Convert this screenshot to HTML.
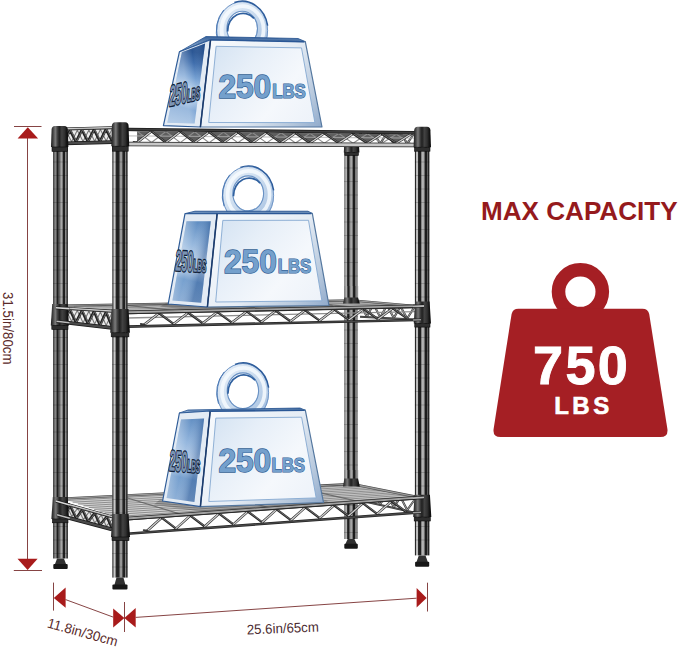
<!DOCTYPE html>
<html><head><meta charset="utf-8"><title>Shelf capacity</title>
<style>
html,body{margin:0;padding:0;background:#fff;}
body{width:679px;height:647px;overflow:hidden;font-family:"Liberation Sans",sans-serif;}
svg{display:block;}
</style></head><body>
<svg width="679" height="647" viewBox="0 0 679 647">

<defs>
  <linearGradient id="poleFL" x1="0" x2="1" y1="0" y2="0">
    <stop offset="0" stop-color="#666"/>
    <stop offset="0.05" stop-color="#2a2a2a"/>
    <stop offset="0.12" stop-color="#e2e2e2"/>
    <stop offset="0.2" stop-color="#9a9a9a"/>
    <stop offset="0.28" stop-color="#222"/>
    <stop offset="0.4" stop-color="#1e1e1e"/>
    <stop offset="0.48" stop-color="#5e5e5e"/>
    <stop offset="0.57" stop-color="#b8b8b8"/>
    <stop offset="0.66" stop-color="#555"/>
    <stop offset="0.74" stop-color="#1c1c1c"/>
    <stop offset="0.81" stop-color="#202020"/>
    <stop offset="0.87" stop-color="#9c9c9c"/>
    <stop offset="0.93" stop-color="#2a2a2a"/>
    <stop offset="1" stop-color="#444"/>
  </linearGradient>
  <linearGradient id="poleLB" x1="0" x2="1" y1="0" y2="0">
    <stop offset="0" stop-color="#333"/>
    <stop offset="0.06" stop-color="#444"/>
    <stop offset="0.12" stop-color="#8a8a8a"/>
    <stop offset="0.21" stop-color="#808080"/>
    <stop offset="0.26" stop-color="#202020"/>
    <stop offset="0.33" stop-color="#1e1e1e"/>
    <stop offset="0.38" stop-color="#5a5a5a"/>
    <stop offset="0.47" stop-color="#666"/>
    <stop offset="0.53" stop-color="#acacac"/>
    <stop offset="0.62" stop-color="#a0a0a0"/>
    <stop offset="0.67" stop-color="#222"/>
    <stop offset="0.78" stop-color="#1e1e1e"/>
    <stop offset="0.83" stop-color="#8a8a8a"/>
    <stop offset="0.89" stop-color="#808080"/>
    <stop offset="0.93" stop-color="#262626"/>
    <stop offset="1" stop-color="#2a2a2a"/>
  </linearGradient>
  <linearGradient id="poleBR" x1="0" x2="1" y1="0" y2="0">
    <stop offset="0" stop-color="#808080"/>
    <stop offset="0.08" stop-color="#909090"/>
    <stop offset="0.14" stop-color="#b8b8b8"/>
    <stop offset="0.21" stop-color="#a8a8a8"/>
    <stop offset="0.25" stop-color="#222"/>
    <stop offset="0.36" stop-color="#1e1e1e"/>
    <stop offset="0.4" stop-color="#7a7a7a"/>
    <stop offset="0.5" stop-color="#aaa"/>
    <stop offset="0.58" stop-color="#a0a0a0"/>
    <stop offset="0.63" stop-color="#444"/>
    <stop offset="0.67" stop-color="#1c1c1c"/>
    <stop offset="0.78" stop-color="#1c1c1c"/>
    <stop offset="0.82" stop-color="#7a7a7a"/>
    <stop offset="0.93" stop-color="#8a8a8a"/>
    <stop offset="1" stop-color="#aaa"/>
  </linearGradient>
  <linearGradient id="poleFR" x1="0" x2="1" y1="0" y2="0">
    <stop offset="0" stop-color="#2a2a2a"/>
    <stop offset="0.05" stop-color="#2a2a2a"/>
    <stop offset="0.09" stop-color="#b8b8b8"/>
    <stop offset="0.21" stop-color="#c2c2c2"/>
    <stop offset="0.25" stop-color="#222"/>
    <stop offset="0.39" stop-color="#1e1e1e"/>
    <stop offset="0.44" stop-color="#7a7a7a"/>
    <stop offset="0.52" stop-color="#b4b4b4"/>
    <stop offset="0.63" stop-color="#a8a8a8"/>
    <stop offset="0.68" stop-color="#4a4a4a"/>
    <stop offset="0.71" stop-color="#1c1c1c"/>
    <stop offset="0.81" stop-color="#1c1c1c"/>
    <stop offset="0.85" stop-color="#5e5e5e"/>
    <stop offset="0.9" stop-color="#5e5e5e"/>
    <stop offset="0.94" stop-color="#222"/>
    <stop offset="1" stop-color="#222"/>
  </linearGradient>
  <linearGradient id="sleeve" x1="0" x2="1" y1="0" y2="0">
    <stop offset="0" stop-color="#1e1e1e"/>
    <stop offset="0.12" stop-color="#444"/>
    <stop offset="0.25" stop-color="#7a7a7a"/>
    <stop offset="0.38" stop-color="#3e3e3e"/>
    <stop offset="0.48" stop-color="#202020"/>
    <stop offset="0.62" stop-color="#424242"/>
    <stop offset="0.78" stop-color="#303030"/>
    <stop offset="0.90" stop-color="#141414"/>
    <stop offset="1" stop-color="#0c0c0c"/>
  </linearGradient>
  <linearGradient id="wfront" x1="0" x2="1" y1="0" y2="1">
    <stop offset="0" stop-color="#dbe8f5"/>
    <stop offset="0.5" stop-color="#e6eff9"/>
    <stop offset="1" stop-color="#cfe0f1"/>
  </linearGradient>
  <linearGradient id="wbevel" x1="0" x2="1" y1="0" y2="1">
    <stop offset="0" stop-color="#f4f8fc"/>
    <stop offset="0.35" stop-color="#c9d9ea"/>
    <stop offset="0.7" stop-color="#9fb9d6"/>
    <stop offset="1" stop-color="#5f86b5"/>
  </linearGradient>
  <linearGradient id="wside" x1="0" x2="1" y1="0" y2="1">
    <stop offset="0" stop-color="#5d8ac0"/>
    <stop offset="0.30" stop-color="#8db1da"/>
    <stop offset="0.55" stop-color="#b4cde8"/>
    <stop offset="0.80" stop-color="#7ea6d3"/>
    <stop offset="1" stop-color="#4f7cb3"/>
  </linearGradient>
  <linearGradient id="wtop" x1="0" x2="0" y1="0" y2="1">
    <stop offset="0" stop-color="#38629a"/>
    <stop offset="1" stop-color="#aac4e2"/>
  </linearGradient>
  <linearGradient id="ring" x1="0" x2="1" y1="0" y2="1">
    <stop offset="0" stop-color="#eef4fb"/>
    <stop offset="0.4" stop-color="#cfdff0"/>
    <stop offset="0.75" stop-color="#b4cbe6"/>
    <stop offset="1" stop-color="#8fb0d8"/>
  </linearGradient>
</defs>

<rect width="679" height="647" fill="#fff"/>
<rect x="344.1" y="146.0" width="13.9" height="393.0" fill="url(#poleBR)"/>
<line x1="344.1" y1="168.0" x2="358.0" y2="168.0" stroke="#0d0d0d" stroke-width="0.5" opacity="0.38"/>
<line x1="344.1" y1="181.5" x2="358.0" y2="181.5" stroke="#0d0d0d" stroke-width="0.5" opacity="0.38"/>
<line x1="344.1" y1="195.0" x2="358.0" y2="195.0" stroke="#0d0d0d" stroke-width="0.5" opacity="0.38"/>
<line x1="344.1" y1="208.5" x2="358.0" y2="208.5" stroke="#0d0d0d" stroke-width="0.5" opacity="0.38"/>
<line x1="344.1" y1="222.0" x2="358.0" y2="222.0" stroke="#0d0d0d" stroke-width="0.5" opacity="0.38"/>
<line x1="344.1" y1="235.5" x2="358.0" y2="235.5" stroke="#0d0d0d" stroke-width="0.5" opacity="0.38"/>
<line x1="344.1" y1="249.0" x2="358.0" y2="249.0" stroke="#0d0d0d" stroke-width="0.5" opacity="0.38"/>
<line x1="344.1" y1="262.5" x2="358.0" y2="262.5" stroke="#0d0d0d" stroke-width="0.5" opacity="0.38"/>
<line x1="344.1" y1="276.0" x2="358.0" y2="276.0" stroke="#0d0d0d" stroke-width="0.5" opacity="0.38"/>
<line x1="344.1" y1="289.5" x2="358.0" y2="289.5" stroke="#0d0d0d" stroke-width="0.5" opacity="0.38"/>
<line x1="344.1" y1="303.0" x2="358.0" y2="303.0" stroke="#0d0d0d" stroke-width="0.5" opacity="0.38"/>
<line x1="344.1" y1="316.5" x2="358.0" y2="316.5" stroke="#0d0d0d" stroke-width="0.5" opacity="0.38"/>
<line x1="344.1" y1="330.0" x2="358.0" y2="330.0" stroke="#0d0d0d" stroke-width="0.5" opacity="0.38"/>
<line x1="344.1" y1="343.5" x2="358.0" y2="343.5" stroke="#0d0d0d" stroke-width="0.5" opacity="0.38"/>
<line x1="344.1" y1="357.0" x2="358.0" y2="357.0" stroke="#0d0d0d" stroke-width="0.5" opacity="0.38"/>
<line x1="344.1" y1="370.5" x2="358.0" y2="370.5" stroke="#0d0d0d" stroke-width="0.5" opacity="0.38"/>
<line x1="344.1" y1="384.0" x2="358.0" y2="384.0" stroke="#0d0d0d" stroke-width="0.5" opacity="0.38"/>
<line x1="344.1" y1="397.5" x2="358.0" y2="397.5" stroke="#0d0d0d" stroke-width="0.5" opacity="0.38"/>
<line x1="344.1" y1="411.0" x2="358.0" y2="411.0" stroke="#0d0d0d" stroke-width="0.5" opacity="0.38"/>
<line x1="344.1" y1="424.5" x2="358.0" y2="424.5" stroke="#0d0d0d" stroke-width="0.5" opacity="0.38"/>
<line x1="344.1" y1="438.0" x2="358.0" y2="438.0" stroke="#0d0d0d" stroke-width="0.5" opacity="0.38"/>
<line x1="344.1" y1="451.5" x2="358.0" y2="451.5" stroke="#0d0d0d" stroke-width="0.5" opacity="0.38"/>
<line x1="344.1" y1="465.0" x2="358.0" y2="465.0" stroke="#0d0d0d" stroke-width="0.5" opacity="0.38"/>
<line x1="344.1" y1="478.5" x2="358.0" y2="478.5" stroke="#0d0d0d" stroke-width="0.5" opacity="0.38"/>
<line x1="344.1" y1="492.0" x2="358.0" y2="492.0" stroke="#0d0d0d" stroke-width="0.5" opacity="0.38"/>
<line x1="344.1" y1="505.5" x2="358.0" y2="505.5" stroke="#0d0d0d" stroke-width="0.5" opacity="0.38"/>
<line x1="344.1" y1="519.0" x2="358.0" y2="519.0" stroke="#0d0d0d" stroke-width="0.5" opacity="0.38"/>
<line x1="344.1" y1="532.5" x2="358.0" y2="532.5" stroke="#0d0d0d" stroke-width="0.5" opacity="0.38"/>
<path d="M347.7 539.0 L354.4 539.0 L356.7 544.1 L345.4 544.1 Z" fill="#303030"/>
<rect x="344.3" y="543.8" width="13.5" height="5.0" rx="1" fill="#171717"/>
<path d="M344.2 146.0 L359.0 146.0 L359.4 152.5 L343.8 152.5 Z" fill="url(#sleeve)"/>
<rect x="344.8" y="152.5" width="13.6" height="3.0" fill="#2e2e2e" stroke="#0a0a0a" stroke-width="0.6"/>
<polyline points="360.0,132.6 366.8,143.6 373.5,132.8 380.2,143.6 387.0,133.1 393.8,143.6 400.5,133.3 407.2,143.6 414.0,133.6" fill="none" stroke="#3c3c3c" stroke-width="2.1" stroke-linejoin="round"/>
<polyline points="360.0,132.6 366.8,143.6 373.5,132.8 380.2,143.6 387.0,133.1 393.8,143.6 400.5,133.3 407.2,143.6 414.0,133.6" fill="none" stroke="#9c9c9c" stroke-width="0.9" stroke-linejoin="round"/>
<polyline points="360.0,303.0 366.8,316.8 373.5,304.1 380.2,317.4 387.0,305.3 393.8,317.9 400.5,306.5 407.2,318.5 414.0,307.6" fill="none" stroke="#3c3c3c" stroke-width="2.1" stroke-linejoin="round"/>
<polyline points="360.0,303.0 366.8,316.8 373.5,304.1 380.2,317.4 387.0,305.3 393.8,317.9 400.5,306.5 407.2,318.5 414.0,307.6" fill="none" stroke="#a8a8a8" stroke-width="0.9" stroke-linejoin="round"/>
<polyline points="360.0,487.0 366.8,501.4 373.5,490.4 380.2,504.3 387.0,493.8 393.8,507.2 400.5,497.1 407.2,510.1 414.0,500.5" fill="none" stroke="#3c3c3c" stroke-width="2.1" stroke-linejoin="round"/>
<polyline points="360.0,487.0 366.8,501.4 373.5,490.4 380.2,504.3 387.0,493.8 393.8,507.2 400.5,497.1 407.2,510.1 414.0,500.5" fill="none" stroke="#a8a8a8" stroke-width="0.9" stroke-linejoin="round"/>
<line x1="360.0" y1="316.8" x2="414.0" y2="319.4" stroke="#333" stroke-width="2.0"/>
<line x1="360.0" y1="316.8" x2="414.0" y2="319.4" stroke="#7a7a7a" stroke-width="0.5"/>
<line x1="360.0" y1="500.6" x2="414.0" y2="512.4" stroke="#333" stroke-width="2.0"/>
<line x1="360.0" y1="500.6" x2="414.0" y2="512.4" stroke="#7a7a7a" stroke-width="0.5"/>
<polygon points="62.0,305.6 121.0,312.4 420.0,306.4 352.0,300.4" fill="#d2d2d2"/>
<line x1="73.8" y1="307.0" x2="365.6" y2="301.6" stroke="#7c7c7c" stroke-width="0.8"/>
<line x1="85.6" y1="308.3" x2="379.2" y2="302.8" stroke="#7c7c7c" stroke-width="0.8"/>
<line x1="97.4" y1="309.7" x2="392.8" y2="304.0" stroke="#7c7c7c" stroke-width="0.8"/>
<line x1="109.2" y1="311.0" x2="406.4" y2="305.2" stroke="#7c7c7c" stroke-width="0.8"/>
<line x1="120.0" y1="304.6" x2="180.8" y2="311.2" stroke="#5c5c5c" stroke-width="1.2" opacity="0.8"/>
<line x1="207.0" y1="303.0" x2="270.5" y2="309.4" stroke="#5c5c5c" stroke-width="1.2" opacity="0.8"/>
<line x1="294.0" y1="301.4" x2="360.2" y2="307.6" stroke="#5c5c5c" stroke-width="1.2" opacity="0.8"/>
<polygon points="62.0,498.6 121.0,518.4 420.0,497.6 352.0,484.0" fill="#d2d2d2"/>
<line x1="67.4" y1="500.4" x2="358.2" y2="485.2" stroke="#7c7c7c" stroke-width="0.8"/>
<line x1="72.7" y1="502.2" x2="364.4" y2="486.5" stroke="#7c7c7c" stroke-width="0.8"/>
<line x1="78.1" y1="504.0" x2="370.5" y2="487.7" stroke="#7c7c7c" stroke-width="0.8"/>
<line x1="83.5" y1="505.8" x2="376.7" y2="488.9" stroke="#7c7c7c" stroke-width="0.8"/>
<line x1="88.8" y1="507.6" x2="382.9" y2="490.2" stroke="#7c7c7c" stroke-width="0.8"/>
<line x1="94.2" y1="509.4" x2="389.1" y2="491.4" stroke="#7c7c7c" stroke-width="0.8"/>
<line x1="99.5" y1="511.2" x2="395.3" y2="492.7" stroke="#7c7c7c" stroke-width="0.8"/>
<line x1="104.9" y1="513.0" x2="401.5" y2="493.9" stroke="#7c7c7c" stroke-width="0.8"/>
<line x1="110.3" y1="514.8" x2="407.6" y2="495.1" stroke="#7c7c7c" stroke-width="0.8"/>
<line x1="115.6" y1="516.6" x2="413.8" y2="496.4" stroke="#7c7c7c" stroke-width="0.8"/>
<line x1="120.0" y1="495.7" x2="180.8" y2="514.2" stroke="#5c5c5c" stroke-width="1.2" opacity="0.8"/>
<line x1="207.0" y1="491.3" x2="270.5" y2="508.0" stroke="#5c5c5c" stroke-width="1.2" opacity="0.8"/>
<line x1="294.0" y1="486.9" x2="360.2" y2="501.8" stroke="#5c5c5c" stroke-width="1.2" opacity="0.8"/>
<line x1="62.0" y1="305.6" x2="352.0" y2="300.4" stroke="#444" stroke-width="2.2" stroke-linecap="round"/>
<line x1="62.0" y1="305.6" x2="352.0" y2="300.4" stroke="#9a9a9a" stroke-width="1.0" stroke-linecap="round"/>
<line x1="352.0" y1="300.4" x2="420.0" y2="306.4" stroke="#444" stroke-width="2.4" stroke-linecap="round"/>
<line x1="352.0" y1="300.4" x2="420.0" y2="306.4" stroke="#9a9a9a" stroke-width="1.2" stroke-linecap="round"/>
<line x1="62.0" y1="498.6" x2="352.0" y2="484.0" stroke="#444" stroke-width="2.3" stroke-linecap="round"/>
<line x1="62.0" y1="498.6" x2="352.0" y2="484.0" stroke="#9a9a9a" stroke-width="1.1" stroke-linecap="round"/>
<line x1="352.0" y1="484.0" x2="420.0" y2="497.6" stroke="#444" stroke-width="2.5" stroke-linecap="round"/>
<line x1="352.0" y1="484.0" x2="420.0" y2="497.6" stroke="#9a9a9a" stroke-width="1.3" stroke-linecap="round"/>
<rect x="344.2" y="286" width="14" height="15.5" fill="url(#poleBR)"/>
<rect x="344.2" y="470" width="14" height="15" fill="url(#poleBR)"/>
<path d="M344.4 297.4 L358 297.4 L359.8 303.6 L343 303.6 Z" fill="url(#sleeve)"/>
<path d="M344.4 478.5 L358 478.5 L359.8 486.5 L343 486.5 Z" fill="url(#sleeve)"/>
<polygon points="166.0,303.2 332.0,304.6 336.0,309.6 200.0,311.4 160.0,306.5" fill="#3a3a3a" opacity="0.35"/>
<polygon points="160.0,499.5 326.0,500.5 334.0,505.5 202.0,512.0 154.0,504.5" fill="#3a3a3a" opacity="0.30"/>
<polygon points="56.0,129.3 112.0,127.8 112.0,142.2 56.0,143.6" fill="#ececec"/>
<polyline points="60.0,142.1 65.8,130.6 71.6,141.8 77.3,130.3 83.1,141.5 88.9,130.0 94.7,141.2 100.4,129.6 106.2,140.9 112.0,129.3" fill="none" stroke="#7a7a7a" stroke-width="1.1" stroke-linejoin="round"/>
<polyline points="58.0,130.5 64.0,142.2 70.0,130.2 76.0,141.9 82.0,129.8 88.0,141.6 94.0,129.5 100.0,141.3 106.0,129.2 112.0,141.0" fill="none" stroke="#222" stroke-width="2.7" stroke-linejoin="round"/>
<polyline points="58.6,130.3 64.6,142.0 70.6,130.0 76.6,141.7 82.6,129.6 88.6,141.4 94.6,129.3 100.6,141.1 106.6,129.0 112.6,140.8" fill="none" stroke="#9a9a9a" stroke-width="0.6" stroke-linejoin="round"/>
<line x1="56.0" y1="129.3" x2="112.0" y2="127.8" stroke="#1a1a1a" stroke-width="3.0"/>
<line x1="56.0" y1="129.3" x2="112.0" y2="127.8" stroke="#8a8a8a" stroke-width="1.5"/>
<line x1="56.0" y1="128.9" x2="112.0" y2="127.4" stroke="#f4f4f4" stroke-width="0.7"/>
<line x1="56.0" y1="143.6" x2="112.0" y2="142.2" stroke="#161616" stroke-width="3.8"/>
<line x1="56.0" y1="143.6" x2="112.0" y2="142.2" stroke="#4a4a4a" stroke-width="2.3"/>
<polygon points="127.0,131.0 137.1,131.1 137.1,142.4 151.5,131.3 165.9,142.5 180.3,131.6 194.7,142.6 209.1,132.0 223.5,142.7 237.9,132.3 252.3,142.8 266.7,132.6 281.1,142.9 295.5,133.0 309.9,143.0 324.3,133.3 338.7,143.1 353.1,133.7 367.5,143.2 381.9,134.0 396.3,143.3 410.7,134.3 410.7,134.3 415.0,134.4" fill="#5e5e5e"/>
<polyline points="137.1,131.1 151.5,142.5 165.9,131.5 180.3,142.6 194.7,131.8 209.1,142.7 223.5,132.1 237.9,142.8 252.3,132.5 266.7,142.9 281.1,132.8 295.5,143.0 309.9,133.2 324.3,143.1 338.7,133.5 353.1,143.2 367.5,133.8 381.9,143.3 396.3,134.2 410.7,143.4" fill="none" stroke="#8c8c8c" stroke-width="1.1" stroke-linejoin="round"/>
<line x1="127.0" y1="135.8" x2="415.0" y2="138.2" stroke="#b0b0b0" stroke-width="1.2" opacity="0.7"/>
<line x1="137.1" y1="142.4" x2="151.5" y2="131.3" stroke="#2a2a2a" stroke-width="2.5" stroke-linecap="round"/>
<line x1="137.1" y1="142.4" x2="151.5" y2="131.3" stroke="#cfcfcf" stroke-width="1.3" stroke-linecap="round"/>
<line x1="151.5" y1="131.3" x2="165.9" y2="142.5" stroke="#262626" stroke-width="2.3" stroke-linecap="round"/>
<line x1="151.5" y1="131.0" x2="165.9" y2="142.2" stroke="#8a8a8a" stroke-width="0.7" stroke-linecap="round"/>
<line x1="165.9" y1="142.5" x2="180.3" y2="131.6" stroke="#2a2a2a" stroke-width="2.5" stroke-linecap="round"/>
<line x1="165.9" y1="142.5" x2="180.3" y2="131.6" stroke="#cfcfcf" stroke-width="1.3" stroke-linecap="round"/>
<line x1="180.3" y1="131.6" x2="194.7" y2="142.6" stroke="#262626" stroke-width="2.3" stroke-linecap="round"/>
<line x1="180.3" y1="131.3" x2="194.7" y2="142.3" stroke="#8a8a8a" stroke-width="0.7" stroke-linecap="round"/>
<line x1="194.7" y1="142.6" x2="209.1" y2="132.0" stroke="#2a2a2a" stroke-width="2.5" stroke-linecap="round"/>
<line x1="194.7" y1="142.6" x2="209.1" y2="132.0" stroke="#cfcfcf" stroke-width="1.3" stroke-linecap="round"/>
<line x1="209.1" y1="132.0" x2="223.5" y2="142.7" stroke="#262626" stroke-width="2.3" stroke-linecap="round"/>
<line x1="209.1" y1="131.7" x2="223.5" y2="142.4" stroke="#8a8a8a" stroke-width="0.7" stroke-linecap="round"/>
<line x1="223.5" y1="142.7" x2="237.9" y2="132.3" stroke="#2a2a2a" stroke-width="2.5" stroke-linecap="round"/>
<line x1="223.5" y1="142.7" x2="237.9" y2="132.3" stroke="#cfcfcf" stroke-width="1.3" stroke-linecap="round"/>
<line x1="237.9" y1="132.3" x2="252.3" y2="142.8" stroke="#262626" stroke-width="2.3" stroke-linecap="round"/>
<line x1="237.9" y1="132.0" x2="252.3" y2="142.5" stroke="#8a8a8a" stroke-width="0.7" stroke-linecap="round"/>
<line x1="252.3" y1="142.8" x2="266.7" y2="132.6" stroke="#2a2a2a" stroke-width="2.5" stroke-linecap="round"/>
<line x1="252.3" y1="142.8" x2="266.7" y2="132.6" stroke="#cfcfcf" stroke-width="1.3" stroke-linecap="round"/>
<line x1="266.7" y1="132.6" x2="281.1" y2="142.9" stroke="#262626" stroke-width="2.3" stroke-linecap="round"/>
<line x1="266.7" y1="132.3" x2="281.1" y2="142.6" stroke="#8a8a8a" stroke-width="0.7" stroke-linecap="round"/>
<line x1="281.1" y1="142.9" x2="295.5" y2="133.0" stroke="#2a2a2a" stroke-width="2.5" stroke-linecap="round"/>
<line x1="281.1" y1="142.9" x2="295.5" y2="133.0" stroke="#cfcfcf" stroke-width="1.3" stroke-linecap="round"/>
<line x1="295.5" y1="133.0" x2="309.9" y2="143.0" stroke="#262626" stroke-width="2.3" stroke-linecap="round"/>
<line x1="295.5" y1="132.7" x2="309.9" y2="142.7" stroke="#8a8a8a" stroke-width="0.7" stroke-linecap="round"/>
<line x1="309.9" y1="143.0" x2="324.3" y2="133.3" stroke="#2a2a2a" stroke-width="2.5" stroke-linecap="round"/>
<line x1="309.9" y1="143.0" x2="324.3" y2="133.3" stroke="#cfcfcf" stroke-width="1.3" stroke-linecap="round"/>
<line x1="324.3" y1="133.3" x2="338.7" y2="143.1" stroke="#262626" stroke-width="2.3" stroke-linecap="round"/>
<line x1="324.3" y1="133.0" x2="338.7" y2="142.8" stroke="#8a8a8a" stroke-width="0.7" stroke-linecap="round"/>
<line x1="338.7" y1="143.1" x2="353.1" y2="133.7" stroke="#2a2a2a" stroke-width="2.5" stroke-linecap="round"/>
<line x1="338.7" y1="143.1" x2="353.1" y2="133.7" stroke="#cfcfcf" stroke-width="1.3" stroke-linecap="round"/>
<line x1="353.1" y1="133.7" x2="367.5" y2="143.2" stroke="#262626" stroke-width="2.3" stroke-linecap="round"/>
<line x1="353.1" y1="133.4" x2="367.5" y2="142.9" stroke="#8a8a8a" stroke-width="0.7" stroke-linecap="round"/>
<line x1="367.5" y1="143.2" x2="381.9" y2="134.0" stroke="#2a2a2a" stroke-width="2.5" stroke-linecap="round"/>
<line x1="367.5" y1="143.2" x2="381.9" y2="134.0" stroke="#cfcfcf" stroke-width="1.3" stroke-linecap="round"/>
<line x1="381.9" y1="134.0" x2="396.3" y2="143.3" stroke="#262626" stroke-width="2.3" stroke-linecap="round"/>
<line x1="381.9" y1="133.7" x2="396.3" y2="143.0" stroke="#8a8a8a" stroke-width="0.7" stroke-linecap="round"/>
<line x1="396.3" y1="143.3" x2="410.7" y2="134.3" stroke="#2a2a2a" stroke-width="2.5" stroke-linecap="round"/>
<line x1="396.3" y1="143.3" x2="410.7" y2="134.3" stroke="#cfcfcf" stroke-width="1.3" stroke-linecap="round"/>
<line x1="133.6" y1="141.8" x2="137.1" y2="142.4" stroke="#3a3a3a" stroke-width="1.8" stroke-linecap="round"/>
<line x1="127.0" y1="129.4" x2="415.0" y2="132.8" stroke="#1a1a1a" stroke-width="3.4"/>
<line x1="127.0" y1="129.4" x2="415.0" y2="132.8" stroke="#3d3d3d" stroke-width="1.9"/>
<line x1="127.0" y1="144.0" x2="415.0" y2="145.0" stroke="#1e1e1e" stroke-width="4.4"/>
<line x1="127.0" y1="144.0" x2="415.0" y2="145.0" stroke="#c8c8c8" stroke-width="2.9"/>
<polygon points="56.0,307.8 112.0,311.3 112.0,327.8 56.0,321.3" fill="#ececec"/>
<polyline points="60.0,319.8 65.8,309.7 71.6,321.2 77.3,310.5 83.1,322.7 88.9,311.2 94.7,324.1 100.4,312.0 106.2,325.6 112.0,312.8" fill="none" stroke="#7a7a7a" stroke-width="1.1" stroke-linejoin="round"/>
<polyline points="58.0,309.0 64.0,320.8 70.0,309.8 76.0,322.3 82.0,310.6 88.0,323.7 94.0,311.3 100.0,325.2 106.0,312.1 112.0,326.6" fill="none" stroke="#222" stroke-width="2.7" stroke-linejoin="round"/>
<polyline points="58.6,308.8 64.6,320.6 70.6,309.6 76.6,322.1 82.6,310.4 88.6,323.5 94.6,311.1 100.6,325.0 106.6,311.9 112.6,326.4" fill="none" stroke="#9a9a9a" stroke-width="0.6" stroke-linejoin="round"/>
<line x1="56.0" y1="307.8" x2="112.0" y2="311.3" stroke="#1a1a1a" stroke-width="3.0"/>
<line x1="56.0" y1="307.8" x2="112.0" y2="311.3" stroke="#8a8a8a" stroke-width="1.5"/>
<line x1="56.0" y1="307.4" x2="112.0" y2="310.9" stroke="#f4f4f4" stroke-width="0.7"/>
<line x1="56.0" y1="321.3" x2="112.0" y2="327.8" stroke="#161616" stroke-width="3.8"/>
<line x1="56.0" y1="321.3" x2="112.0" y2="327.8" stroke="#4a4a4a" stroke-width="2.3"/>
<line x1="127.0" y1="318.0" x2="416.0" y2="311.6" stroke="#8e8e8e" stroke-width="1.3"/>
<line x1="144.3" y1="324.6" x2="159.0" y2="313.3" stroke="#2a2a2a" stroke-width="2.5" stroke-linecap="round"/>
<line x1="144.3" y1="324.6" x2="159.0" y2="313.3" stroke="#cfcfcf" stroke-width="1.3" stroke-linecap="round"/>
<line x1="159.0" y1="313.3" x2="173.6" y2="323.9" stroke="#262626" stroke-width="2.3" stroke-linecap="round"/>
<line x1="159.0" y1="313.0" x2="173.6" y2="323.6" stroke="#8a8a8a" stroke-width="0.7" stroke-linecap="round"/>
<line x1="173.6" y1="323.9" x2="188.2" y2="312.7" stroke="#2a2a2a" stroke-width="2.5" stroke-linecap="round"/>
<line x1="173.6" y1="323.9" x2="188.2" y2="312.7" stroke="#cfcfcf" stroke-width="1.3" stroke-linecap="round"/>
<line x1="188.2" y1="312.7" x2="202.8" y2="323.3" stroke="#262626" stroke-width="2.3" stroke-linecap="round"/>
<line x1="188.2" y1="312.4" x2="202.8" y2="323.0" stroke="#8a8a8a" stroke-width="0.7" stroke-linecap="round"/>
<line x1="202.8" y1="323.3" x2="217.4" y2="312.1" stroke="#2a2a2a" stroke-width="2.5" stroke-linecap="round"/>
<line x1="202.8" y1="323.3" x2="217.4" y2="312.1" stroke="#cfcfcf" stroke-width="1.3" stroke-linecap="round"/>
<line x1="217.4" y1="312.1" x2="232.0" y2="322.6" stroke="#262626" stroke-width="2.3" stroke-linecap="round"/>
<line x1="217.4" y1="311.8" x2="232.0" y2="322.3" stroke="#8a8a8a" stroke-width="0.7" stroke-linecap="round"/>
<line x1="232.0" y1="322.6" x2="246.6" y2="311.4" stroke="#2a2a2a" stroke-width="2.5" stroke-linecap="round"/>
<line x1="232.0" y1="322.6" x2="246.6" y2="311.4" stroke="#cfcfcf" stroke-width="1.3" stroke-linecap="round"/>
<line x1="246.6" y1="311.4" x2="261.2" y2="321.9" stroke="#262626" stroke-width="2.3" stroke-linecap="round"/>
<line x1="246.6" y1="311.1" x2="261.2" y2="321.6" stroke="#8a8a8a" stroke-width="0.7" stroke-linecap="round"/>
<line x1="261.2" y1="321.9" x2="275.8" y2="310.8" stroke="#2a2a2a" stroke-width="2.5" stroke-linecap="round"/>
<line x1="261.2" y1="321.9" x2="275.8" y2="310.8" stroke="#cfcfcf" stroke-width="1.3" stroke-linecap="round"/>
<line x1="275.8" y1="310.8" x2="290.4" y2="321.3" stroke="#262626" stroke-width="2.3" stroke-linecap="round"/>
<line x1="275.8" y1="310.5" x2="290.4" y2="321.0" stroke="#8a8a8a" stroke-width="0.7" stroke-linecap="round"/>
<line x1="290.4" y1="321.3" x2="305.1" y2="310.2" stroke="#2a2a2a" stroke-width="2.5" stroke-linecap="round"/>
<line x1="290.4" y1="321.3" x2="305.1" y2="310.2" stroke="#cfcfcf" stroke-width="1.3" stroke-linecap="round"/>
<line x1="305.1" y1="310.2" x2="319.7" y2="320.6" stroke="#262626" stroke-width="2.3" stroke-linecap="round"/>
<line x1="305.1" y1="309.9" x2="319.7" y2="320.3" stroke="#8a8a8a" stroke-width="0.7" stroke-linecap="round"/>
<line x1="319.7" y1="320.6" x2="334.3" y2="309.6" stroke="#2a2a2a" stroke-width="2.5" stroke-linecap="round"/>
<line x1="319.7" y1="320.6" x2="334.3" y2="309.6" stroke="#cfcfcf" stroke-width="1.3" stroke-linecap="round"/>
<line x1="334.3" y1="309.6" x2="348.9" y2="319.9" stroke="#262626" stroke-width="2.3" stroke-linecap="round"/>
<line x1="334.3" y1="309.3" x2="348.9" y2="319.6" stroke="#8a8a8a" stroke-width="0.7" stroke-linecap="round"/>
<line x1="348.9" y1="319.9" x2="363.5" y2="308.9" stroke="#2a2a2a" stroke-width="2.5" stroke-linecap="round"/>
<line x1="348.9" y1="319.9" x2="363.5" y2="308.9" stroke="#cfcfcf" stroke-width="1.3" stroke-linecap="round"/>
<line x1="363.5" y1="308.9" x2="378.1" y2="319.3" stroke="#262626" stroke-width="2.3" stroke-linecap="round"/>
<line x1="363.5" y1="308.6" x2="378.1" y2="319.0" stroke="#8a8a8a" stroke-width="0.7" stroke-linecap="round"/>
<line x1="378.1" y1="319.3" x2="392.7" y2="308.3" stroke="#2a2a2a" stroke-width="2.5" stroke-linecap="round"/>
<line x1="378.1" y1="319.3" x2="392.7" y2="308.3" stroke="#cfcfcf" stroke-width="1.3" stroke-linecap="round"/>
<line x1="392.7" y1="308.3" x2="407.3" y2="318.6" stroke="#262626" stroke-width="2.3" stroke-linecap="round"/>
<line x1="392.7" y1="308.0" x2="407.3" y2="318.3" stroke="#8a8a8a" stroke-width="0.7" stroke-linecap="round"/>
<line x1="140.8" y1="324.0" x2="144.3" y2="324.6" stroke="#3a3a3a" stroke-width="1.8" stroke-linecap="round"/>
<line x1="127.0" y1="312.4" x2="416.0" y2="306.2" stroke="#2a2a2a" stroke-width="3.6"/>
<line x1="127.0" y1="312.4" x2="416.0" y2="306.2" stroke="#a2a2a2" stroke-width="2.1"/>
<line x1="127.0" y1="313.8" x2="416.0" y2="307.6" stroke="#2a2a2a" stroke-width="1.1"/>
<line x1="127.0" y1="326.6" x2="416.0" y2="320.0" stroke="#262626" stroke-width="2.6"/>
<line x1="127.0" y1="326.6" x2="416.0" y2="320.0" stroke="#4a4a4a" stroke-width="1.1"/>
<polygon points="56.0,501.2 113.0,517.1 112.0,529.3 56.5,514.6" fill="#e4e4e4"/>
<polyline points="60.5,513.1 65.9,504.5 71.9,516.4 77.7,508.0 83.4,519.6 89.4,511.5 94.8,522.9 101.2,515.1 106.3,526.2 113.0,518.6" fill="none" stroke="#7a7a7a" stroke-width="1.1" stroke-linejoin="round"/>
<polyline points="58.0,502.4 64.4,515.0 70.2,505.9 76.3,518.3 82.4,509.5 88.2,521.6 94.7,513.0 100.1,524.8 106.9,516.5 112.0,528.1" fill="none" stroke="#222" stroke-width="2.7" stroke-linejoin="round"/>
<polyline points="58.6,502.2 65.0,514.8 70.8,505.7 76.9,518.1 83.0,509.3 88.8,521.4 95.3,512.8 100.7,524.6 107.5,516.3 112.6,527.9" fill="none" stroke="#9a9a9a" stroke-width="0.6" stroke-linejoin="round"/>
<line x1="56.0" y1="501.2" x2="113.0" y2="517.1" stroke="#1a1a1a" stroke-width="3.0"/>
<line x1="56.0" y1="501.2" x2="113.0" y2="517.1" stroke="#8a8a8a" stroke-width="1.5"/>
<line x1="56.0" y1="500.8" x2="113.0" y2="516.7" stroke="#f4f4f4" stroke-width="0.7"/>
<line x1="56.5" y1="514.6" x2="112.0" y2="529.3" stroke="#161616" stroke-width="3.8"/>
<line x1="56.5" y1="514.6" x2="112.0" y2="529.3" stroke="#4a4a4a" stroke-width="2.3"/>
<line x1="147.2" y1="530.7" x2="161.6" y2="517.7" stroke="#2a2a2a" stroke-width="2.5" stroke-linecap="round"/>
<line x1="147.2" y1="530.7" x2="161.6" y2="517.7" stroke="#cfcfcf" stroke-width="1.3" stroke-linecap="round"/>
<line x1="161.6" y1="517.7" x2="176.0" y2="528.6" stroke="#262626" stroke-width="2.3" stroke-linecap="round"/>
<line x1="161.6" y1="517.4" x2="176.0" y2="528.3" stroke="#8a8a8a" stroke-width="0.7" stroke-linecap="round"/>
<line x1="176.0" y1="528.6" x2="190.3" y2="515.6" stroke="#2a2a2a" stroke-width="2.5" stroke-linecap="round"/>
<line x1="176.0" y1="528.6" x2="190.3" y2="515.6" stroke="#cfcfcf" stroke-width="1.3" stroke-linecap="round"/>
<line x1="190.3" y1="515.6" x2="204.7" y2="526.5" stroke="#262626" stroke-width="2.3" stroke-linecap="round"/>
<line x1="190.3" y1="515.3" x2="204.7" y2="526.2" stroke="#8a8a8a" stroke-width="0.7" stroke-linecap="round"/>
<line x1="204.7" y1="526.5" x2="219.1" y2="513.6" stroke="#2a2a2a" stroke-width="2.5" stroke-linecap="round"/>
<line x1="204.7" y1="526.5" x2="219.1" y2="513.6" stroke="#cfcfcf" stroke-width="1.3" stroke-linecap="round"/>
<line x1="219.1" y1="513.6" x2="233.4" y2="524.4" stroke="#262626" stroke-width="2.3" stroke-linecap="round"/>
<line x1="219.1" y1="513.3" x2="233.4" y2="524.1" stroke="#8a8a8a" stroke-width="0.7" stroke-linecap="round"/>
<line x1="233.4" y1="524.4" x2="247.8" y2="511.5" stroke="#2a2a2a" stroke-width="2.5" stroke-linecap="round"/>
<line x1="233.4" y1="524.4" x2="247.8" y2="511.5" stroke="#cfcfcf" stroke-width="1.3" stroke-linecap="round"/>
<line x1="247.8" y1="511.5" x2="262.2" y2="522.3" stroke="#262626" stroke-width="2.3" stroke-linecap="round"/>
<line x1="247.8" y1="511.2" x2="262.2" y2="522.0" stroke="#8a8a8a" stroke-width="0.7" stroke-linecap="round"/>
<line x1="262.2" y1="522.3" x2="276.6" y2="509.4" stroke="#2a2a2a" stroke-width="2.5" stroke-linecap="round"/>
<line x1="262.2" y1="522.3" x2="276.6" y2="509.4" stroke="#cfcfcf" stroke-width="1.3" stroke-linecap="round"/>
<line x1="276.6" y1="509.4" x2="290.9" y2="520.2" stroke="#262626" stroke-width="2.3" stroke-linecap="round"/>
<line x1="276.6" y1="509.1" x2="290.9" y2="519.9" stroke="#8a8a8a" stroke-width="0.7" stroke-linecap="round"/>
<line x1="290.9" y1="520.2" x2="305.3" y2="507.4" stroke="#2a2a2a" stroke-width="2.5" stroke-linecap="round"/>
<line x1="290.9" y1="520.2" x2="305.3" y2="507.4" stroke="#cfcfcf" stroke-width="1.3" stroke-linecap="round"/>
<line x1="305.3" y1="507.4" x2="319.7" y2="518.1" stroke="#262626" stroke-width="2.3" stroke-linecap="round"/>
<line x1="305.3" y1="507.1" x2="319.7" y2="517.8" stroke="#8a8a8a" stroke-width="0.7" stroke-linecap="round"/>
<line x1="319.7" y1="518.1" x2="334.0" y2="505.3" stroke="#2a2a2a" stroke-width="2.5" stroke-linecap="round"/>
<line x1="319.7" y1="518.1" x2="334.0" y2="505.3" stroke="#cfcfcf" stroke-width="1.3" stroke-linecap="round"/>
<line x1="334.0" y1="505.3" x2="348.4" y2="516.0" stroke="#262626" stroke-width="2.3" stroke-linecap="round"/>
<line x1="334.0" y1="505.0" x2="348.4" y2="515.7" stroke="#8a8a8a" stroke-width="0.7" stroke-linecap="round"/>
<line x1="348.4" y1="516.0" x2="362.8" y2="503.2" stroke="#2a2a2a" stroke-width="2.5" stroke-linecap="round"/>
<line x1="348.4" y1="516.0" x2="362.8" y2="503.2" stroke="#cfcfcf" stroke-width="1.3" stroke-linecap="round"/>
<line x1="362.8" y1="503.2" x2="377.1" y2="513.9" stroke="#262626" stroke-width="2.3" stroke-linecap="round"/>
<line x1="362.8" y1="502.9" x2="377.1" y2="513.6" stroke="#8a8a8a" stroke-width="0.7" stroke-linecap="round"/>
<line x1="377.1" y1="513.9" x2="391.5" y2="501.2" stroke="#2a2a2a" stroke-width="2.5" stroke-linecap="round"/>
<line x1="377.1" y1="513.9" x2="391.5" y2="501.2" stroke="#cfcfcf" stroke-width="1.3" stroke-linecap="round"/>
<line x1="391.5" y1="501.2" x2="405.9" y2="511.7" stroke="#262626" stroke-width="2.3" stroke-linecap="round"/>
<line x1="391.5" y1="500.9" x2="405.9" y2="511.4" stroke="#8a8a8a" stroke-width="0.7" stroke-linecap="round"/>
<line x1="143.7" y1="530.1" x2="147.2" y2="530.7" stroke="#3a3a3a" stroke-width="1.8" stroke-linecap="round"/>
<line x1="127.0" y1="518.6" x2="416.0" y2="497.8" stroke="#2a2a2a" stroke-width="3.6"/>
<line x1="127.0" y1="518.6" x2="416.0" y2="497.8" stroke="#a2a2a2" stroke-width="2.1"/>
<line x1="127.0" y1="520.0" x2="416.0" y2="499.2" stroke="#2a2a2a" stroke-width="1.1"/>
<line x1="127.0" y1="533.8" x2="416.0" y2="512.6" stroke="#262626" stroke-width="2.6"/>
<line x1="127.0" y1="533.8" x2="416.0" y2="512.6" stroke="#4a4a4a" stroke-width="1.1"/>
<rect x="53.1" y="140.0" width="14.8" height="418.5" fill="url(#poleLB)"/>
<line x1="53.1" y1="162.0" x2="67.9" y2="162.0" stroke="#0d0d0d" stroke-width="0.5" opacity="0.38"/>
<line x1="53.1" y1="175.5" x2="67.9" y2="175.5" stroke="#0d0d0d" stroke-width="0.5" opacity="0.38"/>
<line x1="53.1" y1="189.0" x2="67.9" y2="189.0" stroke="#0d0d0d" stroke-width="0.5" opacity="0.38"/>
<line x1="53.1" y1="202.5" x2="67.9" y2="202.5" stroke="#0d0d0d" stroke-width="0.5" opacity="0.38"/>
<line x1="53.1" y1="216.0" x2="67.9" y2="216.0" stroke="#0d0d0d" stroke-width="0.5" opacity="0.38"/>
<line x1="53.1" y1="229.5" x2="67.9" y2="229.5" stroke="#0d0d0d" stroke-width="0.5" opacity="0.38"/>
<line x1="53.1" y1="243.0" x2="67.9" y2="243.0" stroke="#0d0d0d" stroke-width="0.5" opacity="0.38"/>
<line x1="53.1" y1="256.5" x2="67.9" y2="256.5" stroke="#0d0d0d" stroke-width="0.5" opacity="0.38"/>
<line x1="53.1" y1="270.0" x2="67.9" y2="270.0" stroke="#0d0d0d" stroke-width="0.5" opacity="0.38"/>
<line x1="53.1" y1="283.5" x2="67.9" y2="283.5" stroke="#0d0d0d" stroke-width="0.5" opacity="0.38"/>
<line x1="53.1" y1="297.0" x2="67.9" y2="297.0" stroke="#0d0d0d" stroke-width="0.5" opacity="0.38"/>
<line x1="53.1" y1="310.5" x2="67.9" y2="310.5" stroke="#0d0d0d" stroke-width="0.5" opacity="0.38"/>
<line x1="53.1" y1="324.0" x2="67.9" y2="324.0" stroke="#0d0d0d" stroke-width="0.5" opacity="0.38"/>
<line x1="53.1" y1="337.5" x2="67.9" y2="337.5" stroke="#0d0d0d" stroke-width="0.5" opacity="0.38"/>
<line x1="53.1" y1="351.0" x2="67.9" y2="351.0" stroke="#0d0d0d" stroke-width="0.5" opacity="0.38"/>
<line x1="53.1" y1="364.5" x2="67.9" y2="364.5" stroke="#0d0d0d" stroke-width="0.5" opacity="0.38"/>
<line x1="53.1" y1="378.0" x2="67.9" y2="378.0" stroke="#0d0d0d" stroke-width="0.5" opacity="0.38"/>
<line x1="53.1" y1="391.5" x2="67.9" y2="391.5" stroke="#0d0d0d" stroke-width="0.5" opacity="0.38"/>
<line x1="53.1" y1="405.0" x2="67.9" y2="405.0" stroke="#0d0d0d" stroke-width="0.5" opacity="0.38"/>
<line x1="53.1" y1="418.5" x2="67.9" y2="418.5" stroke="#0d0d0d" stroke-width="0.5" opacity="0.38"/>
<line x1="53.1" y1="432.0" x2="67.9" y2="432.0" stroke="#0d0d0d" stroke-width="0.5" opacity="0.38"/>
<line x1="53.1" y1="445.5" x2="67.9" y2="445.5" stroke="#0d0d0d" stroke-width="0.5" opacity="0.38"/>
<line x1="53.1" y1="459.0" x2="67.9" y2="459.0" stroke="#0d0d0d" stroke-width="0.5" opacity="0.38"/>
<line x1="53.1" y1="472.5" x2="67.9" y2="472.5" stroke="#0d0d0d" stroke-width="0.5" opacity="0.38"/>
<line x1="53.1" y1="486.0" x2="67.9" y2="486.0" stroke="#0d0d0d" stroke-width="0.5" opacity="0.38"/>
<line x1="53.1" y1="499.5" x2="67.9" y2="499.5" stroke="#0d0d0d" stroke-width="0.5" opacity="0.38"/>
<line x1="53.1" y1="513.0" x2="67.9" y2="513.0" stroke="#0d0d0d" stroke-width="0.5" opacity="0.38"/>
<line x1="53.1" y1="526.5" x2="67.9" y2="526.5" stroke="#0d0d0d" stroke-width="0.5" opacity="0.38"/>
<line x1="53.1" y1="540.0" x2="67.9" y2="540.0" stroke="#0d0d0d" stroke-width="0.5" opacity="0.38"/>
<line x1="53.1" y1="553.5" x2="67.9" y2="553.5" stroke="#0d0d0d" stroke-width="0.5" opacity="0.38"/>
<path d="M57.1 558.5 L63.9 558.5 L66.1 564.3 L54.9 564.3 Z" fill="#303030"/>
<rect x="53.3" y="564.0" width="14.4" height="5.0" rx="1" fill="#171717"/>
<path d="M51.6 129.4 Q51.8 125.9 55.0 125.9 L64.4 125.9 Q67.6 125.9 67.8 129.4 L68.4 147.0 L51.0 147.0 Z" fill="url(#sleeve)"/>
<rect x="52.0" y="147.0" width="15.4" height="4.4" fill="#2e2e2e" stroke="#0a0a0a" stroke-width="0.6"/>
<path d="M52.2 303.9 L67.6 303.9 L69.0 325.4 L50.8 325.4 Z" fill="url(#sleeve)"/>
<rect x="51.8" y="325.4" width="16.2" height="4.0" fill="#2e2e2e" stroke="#0a0a0a" stroke-width="0.6"/>
<path d="M52.8 497.0 L67.6 497.0 L69.0 519.0 L51.4 519.0 Z" fill="url(#sleeve)"/>
<rect x="52.4" y="519.0" width="15.6" height="3.8" fill="#2e2e2e" stroke="#0a0a0a" stroke-width="0.6"/>
<rect x="414.9" y="140.0" width="14.5" height="415.4" fill="url(#poleFR)"/>
<line x1="414.9" y1="162.0" x2="429.4" y2="162.0" stroke="#0d0d0d" stroke-width="0.5" opacity="0.38"/>
<line x1="414.9" y1="175.5" x2="429.4" y2="175.5" stroke="#0d0d0d" stroke-width="0.5" opacity="0.38"/>
<line x1="414.9" y1="189.0" x2="429.4" y2="189.0" stroke="#0d0d0d" stroke-width="0.5" opacity="0.38"/>
<line x1="414.9" y1="202.5" x2="429.4" y2="202.5" stroke="#0d0d0d" stroke-width="0.5" opacity="0.38"/>
<line x1="414.9" y1="216.0" x2="429.4" y2="216.0" stroke="#0d0d0d" stroke-width="0.5" opacity="0.38"/>
<line x1="414.9" y1="229.5" x2="429.4" y2="229.5" stroke="#0d0d0d" stroke-width="0.5" opacity="0.38"/>
<line x1="414.9" y1="243.0" x2="429.4" y2="243.0" stroke="#0d0d0d" stroke-width="0.5" opacity="0.38"/>
<line x1="414.9" y1="256.5" x2="429.4" y2="256.5" stroke="#0d0d0d" stroke-width="0.5" opacity="0.38"/>
<line x1="414.9" y1="270.0" x2="429.4" y2="270.0" stroke="#0d0d0d" stroke-width="0.5" opacity="0.38"/>
<line x1="414.9" y1="283.5" x2="429.4" y2="283.5" stroke="#0d0d0d" stroke-width="0.5" opacity="0.38"/>
<line x1="414.9" y1="297.0" x2="429.4" y2="297.0" stroke="#0d0d0d" stroke-width="0.5" opacity="0.38"/>
<line x1="414.9" y1="310.5" x2="429.4" y2="310.5" stroke="#0d0d0d" stroke-width="0.5" opacity="0.38"/>
<line x1="414.9" y1="324.0" x2="429.4" y2="324.0" stroke="#0d0d0d" stroke-width="0.5" opacity="0.38"/>
<line x1="414.9" y1="337.5" x2="429.4" y2="337.5" stroke="#0d0d0d" stroke-width="0.5" opacity="0.38"/>
<line x1="414.9" y1="351.0" x2="429.4" y2="351.0" stroke="#0d0d0d" stroke-width="0.5" opacity="0.38"/>
<line x1="414.9" y1="364.5" x2="429.4" y2="364.5" stroke="#0d0d0d" stroke-width="0.5" opacity="0.38"/>
<line x1="414.9" y1="378.0" x2="429.4" y2="378.0" stroke="#0d0d0d" stroke-width="0.5" opacity="0.38"/>
<line x1="414.9" y1="391.5" x2="429.4" y2="391.5" stroke="#0d0d0d" stroke-width="0.5" opacity="0.38"/>
<line x1="414.9" y1="405.0" x2="429.4" y2="405.0" stroke="#0d0d0d" stroke-width="0.5" opacity="0.38"/>
<line x1="414.9" y1="418.5" x2="429.4" y2="418.5" stroke="#0d0d0d" stroke-width="0.5" opacity="0.38"/>
<line x1="414.9" y1="432.0" x2="429.4" y2="432.0" stroke="#0d0d0d" stroke-width="0.5" opacity="0.38"/>
<line x1="414.9" y1="445.5" x2="429.4" y2="445.5" stroke="#0d0d0d" stroke-width="0.5" opacity="0.38"/>
<line x1="414.9" y1="459.0" x2="429.4" y2="459.0" stroke="#0d0d0d" stroke-width="0.5" opacity="0.38"/>
<line x1="414.9" y1="472.5" x2="429.4" y2="472.5" stroke="#0d0d0d" stroke-width="0.5" opacity="0.38"/>
<line x1="414.9" y1="486.0" x2="429.4" y2="486.0" stroke="#0d0d0d" stroke-width="0.5" opacity="0.38"/>
<line x1="414.9" y1="499.5" x2="429.4" y2="499.5" stroke="#0d0d0d" stroke-width="0.5" opacity="0.38"/>
<line x1="414.9" y1="513.0" x2="429.4" y2="513.0" stroke="#0d0d0d" stroke-width="0.5" opacity="0.38"/>
<line x1="414.9" y1="526.5" x2="429.4" y2="526.5" stroke="#0d0d0d" stroke-width="0.5" opacity="0.38"/>
<line x1="414.9" y1="540.0" x2="429.4" y2="540.0" stroke="#0d0d0d" stroke-width="0.5" opacity="0.38"/>
<path d="M418.8 555.4 L425.5 555.4 L427.8 562.1 L416.5 562.1 Z" fill="#303030"/>
<rect x="415.1" y="561.8" width="14.1" height="5.0" rx="1" fill="#171717"/>
<path d="M414.2 130.3 Q414.4 126.8 417.6 126.8 L427.0 126.8 Q430.2 126.8 430.4 130.3 L431.0 147.2 L413.6 147.2 Z" fill="url(#sleeve)"/>
<rect x="414.6" y="147.2" width="15.4" height="4.0" fill="#2e2e2e" stroke="#0a0a0a" stroke-width="0.6"/>
<path d="M415.2 301.5 L429.6 301.5 L431.0 323.5 L413.8 323.5 Z" fill="url(#sleeve)"/>
<rect x="414.8" y="323.5" width="15.2" height="3.6" fill="#2e2e2e" stroke="#0a0a0a" stroke-width="0.6"/>
<path d="M414.6 494.7 L429.9 494.7 L431.3 517.1 L413.2 517.1 Z" fill="url(#sleeve)"/>
<rect x="414.2" y="517.1" width="16.1" height="3.9" fill="#2e2e2e" stroke="#0a0a0a" stroke-width="0.6"/>
<rect x="112.2" y="140.0" width="15.5" height="437.6" fill="url(#poleFL)"/>
<line x1="112.2" y1="162.0" x2="127.7" y2="162.0" stroke="#0d0d0d" stroke-width="0.5" opacity="0.38"/>
<line x1="112.2" y1="175.5" x2="127.7" y2="175.5" stroke="#0d0d0d" stroke-width="0.5" opacity="0.38"/>
<line x1="112.2" y1="189.0" x2="127.7" y2="189.0" stroke="#0d0d0d" stroke-width="0.5" opacity="0.38"/>
<line x1="112.2" y1="202.5" x2="127.7" y2="202.5" stroke="#0d0d0d" stroke-width="0.5" opacity="0.38"/>
<line x1="112.2" y1="216.0" x2="127.7" y2="216.0" stroke="#0d0d0d" stroke-width="0.5" opacity="0.38"/>
<line x1="112.2" y1="229.5" x2="127.7" y2="229.5" stroke="#0d0d0d" stroke-width="0.5" opacity="0.38"/>
<line x1="112.2" y1="243.0" x2="127.7" y2="243.0" stroke="#0d0d0d" stroke-width="0.5" opacity="0.38"/>
<line x1="112.2" y1="256.5" x2="127.7" y2="256.5" stroke="#0d0d0d" stroke-width="0.5" opacity="0.38"/>
<line x1="112.2" y1="270.0" x2="127.7" y2="270.0" stroke="#0d0d0d" stroke-width="0.5" opacity="0.38"/>
<line x1="112.2" y1="283.5" x2="127.7" y2="283.5" stroke="#0d0d0d" stroke-width="0.5" opacity="0.38"/>
<line x1="112.2" y1="297.0" x2="127.7" y2="297.0" stroke="#0d0d0d" stroke-width="0.5" opacity="0.38"/>
<line x1="112.2" y1="310.5" x2="127.7" y2="310.5" stroke="#0d0d0d" stroke-width="0.5" opacity="0.38"/>
<line x1="112.2" y1="324.0" x2="127.7" y2="324.0" stroke="#0d0d0d" stroke-width="0.5" opacity="0.38"/>
<line x1="112.2" y1="337.5" x2="127.7" y2="337.5" stroke="#0d0d0d" stroke-width="0.5" opacity="0.38"/>
<line x1="112.2" y1="351.0" x2="127.7" y2="351.0" stroke="#0d0d0d" stroke-width="0.5" opacity="0.38"/>
<line x1="112.2" y1="364.5" x2="127.7" y2="364.5" stroke="#0d0d0d" stroke-width="0.5" opacity="0.38"/>
<line x1="112.2" y1="378.0" x2="127.7" y2="378.0" stroke="#0d0d0d" stroke-width="0.5" opacity="0.38"/>
<line x1="112.2" y1="391.5" x2="127.7" y2="391.5" stroke="#0d0d0d" stroke-width="0.5" opacity="0.38"/>
<line x1="112.2" y1="405.0" x2="127.7" y2="405.0" stroke="#0d0d0d" stroke-width="0.5" opacity="0.38"/>
<line x1="112.2" y1="418.5" x2="127.7" y2="418.5" stroke="#0d0d0d" stroke-width="0.5" opacity="0.38"/>
<line x1="112.2" y1="432.0" x2="127.7" y2="432.0" stroke="#0d0d0d" stroke-width="0.5" opacity="0.38"/>
<line x1="112.2" y1="445.5" x2="127.7" y2="445.5" stroke="#0d0d0d" stroke-width="0.5" opacity="0.38"/>
<line x1="112.2" y1="459.0" x2="127.7" y2="459.0" stroke="#0d0d0d" stroke-width="0.5" opacity="0.38"/>
<line x1="112.2" y1="472.5" x2="127.7" y2="472.5" stroke="#0d0d0d" stroke-width="0.5" opacity="0.38"/>
<line x1="112.2" y1="486.0" x2="127.7" y2="486.0" stroke="#0d0d0d" stroke-width="0.5" opacity="0.38"/>
<line x1="112.2" y1="499.5" x2="127.7" y2="499.5" stroke="#0d0d0d" stroke-width="0.5" opacity="0.38"/>
<line x1="112.2" y1="513.0" x2="127.7" y2="513.0" stroke="#0d0d0d" stroke-width="0.5" opacity="0.38"/>
<line x1="112.2" y1="526.5" x2="127.7" y2="526.5" stroke="#0d0d0d" stroke-width="0.5" opacity="0.38"/>
<line x1="112.2" y1="540.0" x2="127.7" y2="540.0" stroke="#0d0d0d" stroke-width="0.5" opacity="0.38"/>
<line x1="112.2" y1="553.5" x2="127.7" y2="553.5" stroke="#0d0d0d" stroke-width="0.5" opacity="0.38"/>
<line x1="112.2" y1="567.0" x2="127.7" y2="567.0" stroke="#0d0d0d" stroke-width="0.5" opacity="0.38"/>
<path d="M116.5 577.6 L123.4 577.6 L125.5 584.9 L114.4 584.9 Z" fill="#303030"/>
<rect x="112.4" y="584.6" width="15.1" height="5.0" rx="1" fill="#171717"/>
<path d="M111.9 125.8 Q112.1 122.3 115.3 122.3 L125.2 122.3 Q128.4 122.3 128.6 125.8 L129.2 146.2 L111.3 146.2 Z" fill="url(#sleeve)"/>
<rect x="112.3" y="146.2" width="15.9" height="5.0" fill="#2e2e2e" stroke="#0a0a0a" stroke-width="0.6"/>
<path d="M111.6 309.0 L128.5 309.0 L129.9 332.8 L110.2 332.8 Z" fill="url(#sleeve)"/>
<rect x="111.2" y="332.8" width="17.7" height="4.0" fill="#2e2e2e" stroke="#0a0a0a" stroke-width="0.6"/>
<path d="M112.4 514.0 L128.6 514.0 L130.0 537.0 L111.0 537.0 Z" fill="url(#sleeve)"/>
<rect x="112.0" y="537.0" width="17.0" height="3.6" fill="#2e2e2e" stroke="#0a0a0a" stroke-width="0.6"/>
<line x1="55.8" y1="307.8" x2="69.5" y2="308.6" stroke="#141414" stroke-width="2.8"/>
<line x1="55.8" y1="307.8" x2="69.5" y2="308.6" stroke="#d8d8d8" stroke-width="1.6"/>
<line x1="56.5" y1="321.3" x2="69.5" y2="322.8" stroke="#141414" stroke-width="2.6"/>
<line x1="56.5" y1="321.3" x2="69.5" y2="322.8" stroke="#bdbdbd" stroke-width="1.4"/>
<line x1="55.8" y1="501.1" x2="69.8" y2="505.0" stroke="#141414" stroke-width="2.8"/>
<line x1="55.8" y1="501.1" x2="69.8" y2="505.0" stroke="#d8d8d8" stroke-width="1.6"/>
<line x1="57.0" y1="514.8" x2="69.8" y2="518.2" stroke="#141414" stroke-width="2.6"/>
<line x1="57.0" y1="514.8" x2="69.8" y2="518.2" stroke="#bdbdbd" stroke-width="1.4"/>
<line x1="413.0" y1="306.3" x2="424.0" y2="306.0" stroke="#141414" stroke-width="3.0"/>
<line x1="413.0" y1="306.3" x2="424.0" y2="306.0" stroke="#b5b5b5" stroke-width="1.8"/>
<line x1="413.0" y1="320.0" x2="421.0" y2="319.8" stroke="#141414" stroke-width="2.6"/>
<line x1="413.0" y1="320.0" x2="421.0" y2="319.8" stroke="#9a9a9a" stroke-width="1.4"/>
<line x1="413.0" y1="498.2" x2="424.0" y2="497.4" stroke="#141414" stroke-width="3.0"/>
<line x1="413.0" y1="498.2" x2="424.0" y2="497.4" stroke="#b5b5b5" stroke-width="1.8"/>
<line x1="413.0" y1="512.8" x2="421.0" y2="512.2" stroke="#141414" stroke-width="2.6"/>
<line x1="413.0" y1="512.8" x2="421.0" y2="512.2" stroke="#9a9a9a" stroke-width="1.4"/>
<path fill-rule="evenodd" fill="url(#ring)" d="M216.3 30.6 a25.9 29.4 0 1 0 51.8 0 a25.9 29.4 0 1 0 -51.8 0 Z M227.4 28.6 a14.8 16.9 0 1 0 29.6 0 a14.8 16.9 0 1 0 -29.6 0 Z"/>
<ellipse cx="242.6" cy="29.6" rx="21.0" ry="23.5" fill="none" stroke="#f6fafe" stroke-width="3.8" opacity="0.85"/>
<ellipse cx="242.2" cy="30.6" rx="25.4" ry="28.9" fill="none" stroke="#6f95c6" stroke-width="1.0"/>
<path d="M234.4 2.5 A25.9 29.4 0 0 1 267.7 25.6" fill="none" stroke="#2c5b9a" stroke-width="1.4"/>
<path d="M218.1 41.5 A25.9 29.4 0 0 1 223.8 9.9" fill="none" stroke="#4a78b4" stroke-width="1.0"/>
<ellipse cx="242.2" cy="28.6" rx="15.3" ry="17.4" fill="none" stroke="#6a92c4" stroke-width="1.1"/>
<path d="M227.6 31.4 A15.5 17.6 0 0 1 254.0 18.4" fill="none" stroke="#2f609f" stroke-width="1.7"/>
<polygon points="179.4,51.8 206.0,36.5 298.0,38.5 305.3,41.6 210.6,39.6" fill="url(#wtop)" stroke="#24528f" stroke-width="0.8" stroke-linejoin="round"/>
<polygon points="179.4,51.8 210.6,39.6 200.4,127.0 163.4,125.6" fill="#e3ebf4" stroke="#2f5c98" stroke-width="1.2" stroke-linejoin="round"/>
<linearGradient id="sga" gradientUnits="userSpaceOnUse" x1="195.9" y1="52.2" x2="177.3" y2="122.7">
<stop offset="0" stop-color="#1f4d8e"/><stop offset="0.15" stop-color="#3566a8"/><stop offset="0.35" stop-color="#6e9bd0"/><stop offset="0.5" stop-color="#a8c6e6"/><stop offset="0.62" stop-color="#b6cfea"/><stop offset="0.78" stop-color="#6e9bcf"/><stop offset="1" stop-color="#8fb3dc"/></linearGradient>
<linearGradient id="sha" gradientUnits="userSpaceOnUse" x1="181.9" y1="52.2" x2="205.1" y2="49.4">
<stop offset="0" stop-color="#ffffff" stop-opacity="0.30"/><stop offset="0.45" stop-color="#ffffff" stop-opacity="0.05"/><stop offset="1" stop-color="#173f7c" stop-opacity="0.32"/></linearGradient>
<polygon points="181.9,52.2 205.1,43.4 194.6,123.4 167.3,122.7" fill="url(#sga)"/>
<polygon points="181.9,52.2 205.1,43.4 194.6,123.4 167.3,122.7" fill="url(#sha)"/>
<text transform="translate(169.4 106.2) skewY(-13.0) scale(0.37 1)" font-family="Liberation Sans, sans-serif" font-weight="bold" font-style="italic" font-size="29.0" fill="#7b94b4" stroke="#101f38" stroke-width="2.6" paint-order="stroke" stroke-linejoin="round">250<tspan font-size="17.4">LBS</tspan></text>
<linearGradient id="fba" gradientUnits="userSpaceOnUse" x1="210.6" y1="39.6" x2="322.0" y2="127.0">
<stop offset="0" stop-color="#f7fafd"/><stop offset="0.50" stop-color="#e6edf5"/><stop offset="0.8" stop-color="#b9cade"/><stop offset="1" stop-color="#90aacb"/></linearGradient>
<polygon points="210.6,39.6 305.3,41.6 322.0,127.0 200.4,127.0" fill="url(#fba)" stroke="#54779f" stroke-width="1.2" stroke-linejoin="round"/>
<line x1="210.6" y1="39.6" x2="200.4" y2="127.0" stroke="#1b3a6b" stroke-width="1.5"/>
<line x1="210.6" y1="39.8" x2="304.3" y2="41.8" stroke="#2a5796" stroke-width="1.4"/>
<linearGradient id="fpa" gradientUnits="userSpaceOnUse" x1="216.1" y1="46.3" x2="314.9" y2="122.6">
<stop offset="0" stop-color="#d6e4f3"/><stop offset="0.30" stop-color="#e7eff8"/><stop offset="0.65" stop-color="#f5f8fc"/><stop offset="1" stop-color="#edf2f9"/></linearGradient>
<polygon points="216.1,46.3 301.5,47.9 314.9,122.6 208.7,122.5" fill="url(#fpa)" stroke="#86a9d1" stroke-width="0.9" stroke-linejoin="round"/>
<text x="218.4" y="98.0" font-family="Liberation Sans, sans-serif" font-weight="bold" font-size="33.5" fill="#74a0cc" stroke="#335f94" stroke-width="1.4" paint-order="stroke" textLength="52.8" lengthAdjust="spacingAndGlyphs">250</text>
<text x="272.2" y="98.0" font-family="Liberation Sans, sans-serif" font-weight="bold" font-size="19.5" fill="#74a0cc" stroke="#335f94" stroke-width="1.2" paint-order="stroke" textLength="33.4" lengthAdjust="spacingAndGlyphs">LBS</text>
<path fill-rule="evenodd" fill="url(#ring)" d="M222.3 195.4 a25.9 29.4 0 1 0 51.8 0 a25.9 29.4 0 1 0 -51.8 0 Z M233.3 193.4 a14.9 17.0 0 1 0 29.8 0 a14.9 17.0 0 1 0 -29.8 0 Z"/>
<ellipse cx="248.6" cy="194.4" rx="21.0" ry="23.6" fill="none" stroke="#f6fafe" stroke-width="3.7" opacity="0.85"/>
<ellipse cx="248.2" cy="195.4" rx="25.4" ry="28.9" fill="none" stroke="#6f95c6" stroke-width="1.0"/>
<path d="M240.4 167.3 A25.9 29.4 0 0 1 273.7 190.4" fill="none" stroke="#2c5b9a" stroke-width="1.4"/>
<path d="M224.1 206.3 A25.9 29.4 0 0 1 229.8 174.7" fill="none" stroke="#4a78b4" stroke-width="1.0"/>
<ellipse cx="248.2" cy="193.4" rx="15.4" ry="17.5" fill="none" stroke="#6a92c4" stroke-width="1.1"/>
<path d="M233.5 196.3 A15.6 17.7 0 0 1 260.1 183.2" fill="none" stroke="#2f609f" stroke-width="1.7"/>
<polygon points="185.0,213.6 195.0,211.2 308.0,211.2 312.3,213.4 217.2,213.4" fill="url(#wtop)" stroke="#24528f" stroke-width="0.8" stroke-linejoin="round"/>
<polygon points="185.0,213.6 217.2,213.4 207.4,307.0 168.2,304.0" fill="#e3ebf4" stroke="#2f5c98" stroke-width="1.2" stroke-linejoin="round"/>
<linearGradient id="sgb" gradientUnits="userSpaceOnUse" x1="200.5" y1="221.3" x2="182.4" y2="300.6">
<stop offset="0" stop-color="#5485bd"/><stop offset="0.3" stop-color="#92b5dc"/><stop offset="0.48" stop-color="#bdd2ea"/><stop offset="0.6" stop-color="#b4cbe6"/><stop offset="0.74" stop-color="#6f9bcc"/><stop offset="1" stop-color="#86aad4"/></linearGradient>
<linearGradient id="shb" gradientUnits="userSpaceOnUse" x1="186.5" y1="221.3" x2="210.8" y2="227.3">
<stop offset="0" stop-color="#ffffff" stop-opacity="0.30"/><stop offset="0.45" stop-color="#ffffff" stop-opacity="0.05"/><stop offset="1" stop-color="#173f7c" stop-opacity="0.32"/></linearGradient>
<polygon points="186.5,221.3 210.8,221.3 201.2,302.8 172.4,300.6" fill="url(#sgb)"/>
<polygon points="186.5,221.3 210.8,221.3 201.2,302.8 172.4,300.6" fill="url(#shb)"/>
<text transform="translate(175.4 270.6) skewY(3.0) scale(0.37 1)" font-family="Liberation Sans, sans-serif" font-weight="bold" font-style="italic" font-size="29.0" fill="#7b94b4" stroke="#101f38" stroke-width="2.6" paint-order="stroke" stroke-linejoin="round">250<tspan font-size="17.4">LBS</tspan></text>
<linearGradient id="fbb" gradientUnits="userSpaceOnUse" x1="217.2" y1="213.4" x2="329.0" y2="305.5">
<stop offset="0" stop-color="#f7fafd"/><stop offset="0.50" stop-color="#e6edf5"/><stop offset="0.8" stop-color="#b9cade"/><stop offset="1" stop-color="#90aacb"/></linearGradient>
<polygon points="217.2,213.4 312.3,213.4 329.0,305.5 207.4,307.0" fill="url(#fbb)" stroke="#54779f" stroke-width="1.2" stroke-linejoin="round"/>
<line x1="217.2" y1="213.4" x2="207.4" y2="307.0" stroke="#1b3a6b" stroke-width="1.5"/>
<line x1="217.2" y1="213.6" x2="311.3" y2="213.6" stroke="#2a5796" stroke-width="1.4"/>
<linearGradient id="fpb" gradientUnits="userSpaceOnUse" x1="222.8" y1="220.4" x2="321.9" y2="300.8">
<stop offset="0" stop-color="#d6e4f3"/><stop offset="0.30" stop-color="#e7eff8"/><stop offset="0.65" stop-color="#f5f8fc"/><stop offset="1" stop-color="#edf2f9"/></linearGradient>
<polygon points="222.8,220.4 308.5,220.3 321.9,300.8 215.7,302.0" fill="url(#fpb)" stroke="#86a9d1" stroke-width="0.9" stroke-linejoin="round"/>
<text x="224.0" y="273.3" font-family="Liberation Sans, sans-serif" font-weight="bold" font-size="33.5" fill="#74a0cc" stroke="#335f94" stroke-width="1.4" paint-order="stroke" textLength="52.8" lengthAdjust="spacingAndGlyphs">250</text>
<text x="277.8" y="273.3" font-family="Liberation Sans, sans-serif" font-weight="bold" font-size="19.5" fill="#74a0cc" stroke="#335f94" stroke-width="1.2" paint-order="stroke" textLength="33.4" lengthAdjust="spacingAndGlyphs">LBS</text>
<path fill-rule="evenodd" fill="url(#ring)" d="M216.7 392.7 a26.2 29.7 0 1 0 52.4 0 a26.2 29.7 0 1 0 -52.4 0 Z M227.7 390.7 a15.2 17.3 0 1 0 30.4 0 a15.2 17.3 0 1 0 -30.4 0 Z"/>
<ellipse cx="243.3" cy="391.7" rx="21.3" ry="23.9" fill="none" stroke="#f6fafe" stroke-width="3.7" opacity="0.85"/>
<ellipse cx="242.9" cy="392.7" rx="25.7" ry="29.2" fill="none" stroke="#6f95c6" stroke-width="1.0"/>
<path d="M235.0 364.3 A26.2 29.7 0 0 1 268.7 387.7" fill="none" stroke="#2c5b9a" stroke-width="1.4"/>
<path d="M218.5 403.7 A26.2 29.7 0 0 1 224.3 371.8" fill="none" stroke="#4a78b4" stroke-width="1.0"/>
<ellipse cx="242.9" cy="390.7" rx="15.7" ry="17.8" fill="none" stroke="#6a92c4" stroke-width="1.1"/>
<path d="M227.9 393.7 A15.9 18.0 0 0 1 255.1 380.3" fill="none" stroke="#2f609f" stroke-width="1.7"/>
<polygon points="179.4,413.0 188.0,410.0 300.0,408.0 305.3,410.2 210.2,411.0" fill="url(#wtop)" stroke="#24528f" stroke-width="0.8" stroke-linejoin="round"/>
<polygon points="179.4,413.0 210.2,411.0 200.4,506.7 162.6,501.0" fill="#e3ebf4" stroke="#2f5c98" stroke-width="1.2" stroke-linejoin="round"/>
<linearGradient id="sgc" gradientUnits="userSpaceOnUse" x1="195.0" y1="419.5" x2="176.6" y2="498.0">
<stop offset="0" stop-color="#5a89c0"/><stop offset="0.3" stop-color="#8fb3dc"/><stop offset="0.48" stop-color="#b2cae7"/><stop offset="0.6" stop-color="#a9c4e3"/><stop offset="0.74" stop-color="#6f9bcc"/><stop offset="1" stop-color="#86aad4"/></linearGradient>
<linearGradient id="shc" gradientUnits="userSpaceOnUse" x1="181.0" y1="419.5" x2="204.1" y2="424.4">
<stop offset="0" stop-color="#ffffff" stop-opacity="0.30"/><stop offset="0.45" stop-color="#ffffff" stop-opacity="0.05"/><stop offset="1" stop-color="#173f7c" stop-opacity="0.32"/></linearGradient>
<polygon points="181.0,419.5 204.1,418.4 194.4,502.0 166.6,498.0" fill="url(#sgc)"/>
<polygon points="181.0,419.5 204.1,418.4 194.4,502.0 166.6,498.0" fill="url(#shc)"/>
<text transform="translate(169.4 470.6) skewY(4.0) scale(0.37 1)" font-family="Liberation Sans, sans-serif" font-weight="bold" font-style="italic" font-size="29.0" fill="#7b94b4" stroke="#101f38" stroke-width="2.6" paint-order="stroke" stroke-linejoin="round">250<tspan font-size="17.4">LBS</tspan></text>
<linearGradient id="fbc" gradientUnits="userSpaceOnUse" x1="210.2" y1="411.0" x2="323.5" y2="502.5">
<stop offset="0" stop-color="#f7fafd"/><stop offset="0.50" stop-color="#e6edf5"/><stop offset="0.8" stop-color="#b9cade"/><stop offset="1" stop-color="#90aacb"/></linearGradient>
<polygon points="210.2,411.0 305.3,410.2 323.5,502.5 200.4,506.7" fill="url(#fbc)" stroke="#54779f" stroke-width="1.2" stroke-linejoin="round"/>
<line x1="210.2" y1="411.0" x2="200.4" y2="506.7" stroke="#1b3a6b" stroke-width="1.5"/>
<line x1="210.2" y1="411.2" x2="304.3" y2="410.4" stroke="#2a5796" stroke-width="1.4"/>
<linearGradient id="fpc" gradientUnits="userSpaceOnUse" x1="215.8" y1="418.1" x2="316.2" y2="497.9">
<stop offset="0" stop-color="#d6e4f3"/><stop offset="0.30" stop-color="#e7eff8"/><stop offset="0.65" stop-color="#f5f8fc"/><stop offset="1" stop-color="#edf2f9"/></linearGradient>
<polygon points="215.8,418.1 301.6,417.2 316.2,497.9 208.8,501.5" fill="url(#fpc)" stroke="#86a9d1" stroke-width="0.9" stroke-linejoin="round"/>
<text x="218.4" y="472.0" font-family="Liberation Sans, sans-serif" font-weight="bold" font-size="33.5" fill="#74a0cc" stroke="#335f94" stroke-width="1.4" paint-order="stroke" textLength="52.8" lengthAdjust="spacingAndGlyphs">250</text>
<text x="271.6" y="472.0" font-family="Liberation Sans, sans-serif" font-weight="bold" font-size="19.5" fill="#74a0cc" stroke="#335f94" stroke-width="1.2" paint-order="stroke" textLength="33.4" lengthAdjust="spacingAndGlyphs">LBS</text>
<line x1="14" y1="126.5" x2="41.5" y2="126.5" stroke="#702222" stroke-width="0.85"/>
<line x1="27.5" y1="128" x2="27.5" y2="560" stroke="#702222" stroke-width="0.85"/>
<polygon points="27.8,127.2 38.1,138.4 17.6,138.4" fill="#a81b1b"/>
<polygon points="27.6,570 37.6,558.8 17.5,558.8" fill="#a81b1b"/>
<line x1="13.8" y1="570.5" x2="42" y2="570.5" stroke="#702222" stroke-width="0.85"/>
<text transform="translate(3.0 292.0) rotate(90)" font-family="Liberation Sans, sans-serif" font-size="14" fill="#5a2a2a" textLength="72.6" lengthAdjust="spacingAndGlyphs">31.5in/80cm</text>
<line x1="53.5" y1="582.6" x2="53.5" y2="610.6" stroke="#702222" stroke-width="0.85"/>
<polygon points="53.8,598 65.6,587.6 65.6,607.8" fill="#a81b1b"/>
<line x1="65.6" y1="599.6" x2="113.2" y2="617.1" stroke="#702222" stroke-width="0.85"/>
<polygon points="124.4,618 113.2,608.6 113.2,627.6" fill="#a81b1b"/>
<line x1="124.5" y1="602" x2="124.5" y2="632" stroke="#702222" stroke-width="0.85"/>
<polygon points="124.4,618 135.7,608 135.7,627.6" fill="#a81b1b"/>
<text transform="translate(46.4 627.2) rotate(15.4)" font-family="Liberation Sans, sans-serif" font-size="13.8" fill="#5a2a2a" textLength="72.4" lengthAdjust="spacingAndGlyphs">11.8in/30cm</text>
<line x1="135.7" y1="617.4" x2="416.6" y2="598.2" stroke="#702222" stroke-width="0.85"/>
<polygon points="426.6,598 416.6,588 416.6,607.4" fill="#a81b1b"/>
<line x1="427.5" y1="582.7" x2="427.5" y2="611.5" stroke="#702222" stroke-width="0.85"/>
<text transform="translate(247 634.4) rotate(-2.3)" font-family="Liberation Sans, sans-serif" font-size="13.8" fill="#4a2a30" textLength="72" lengthAdjust="spacingAndGlyphs">25.6in/65cm</text>
<text x="481.0" y="220.2" font-family="Liberation Sans, sans-serif" font-weight="bold" font-size="26.2" fill="#951a1d" textLength="196.6" lengthAdjust="spacingAndGlyphs">MAX CAPACITY</text>
<circle cx="580.4" cy="291.7" r="21.9" fill="none" stroke="#a51f24" stroke-width="13.6"/>
<path d="M518.4 308.7 L642.4 308.7 Q648 308.7 649.2 314 L667.4 429 Q668.4 437 660.4 437 L500.6 437 Q492.6 437 493.6 429 L511.6 314 Q512.8 308.7 518.4 308.7 Z" fill="#a51f24"/>
<text x="533.0" y="383.9" font-family="Liberation Sans, sans-serif" font-weight="bold" font-size="54" fill="#fff" stroke="#fff" stroke-width="0.9" textLength="94.8" lengthAdjust="spacing">750</text>
<text x="554.2" y="414.0" font-family="Liberation Sans, sans-serif" font-weight="bold" font-size="24" fill="#fff" stroke="#fff" stroke-width="0.6" textLength="55" lengthAdjust="spacing">LBS</text>
</svg>
</body></html>
